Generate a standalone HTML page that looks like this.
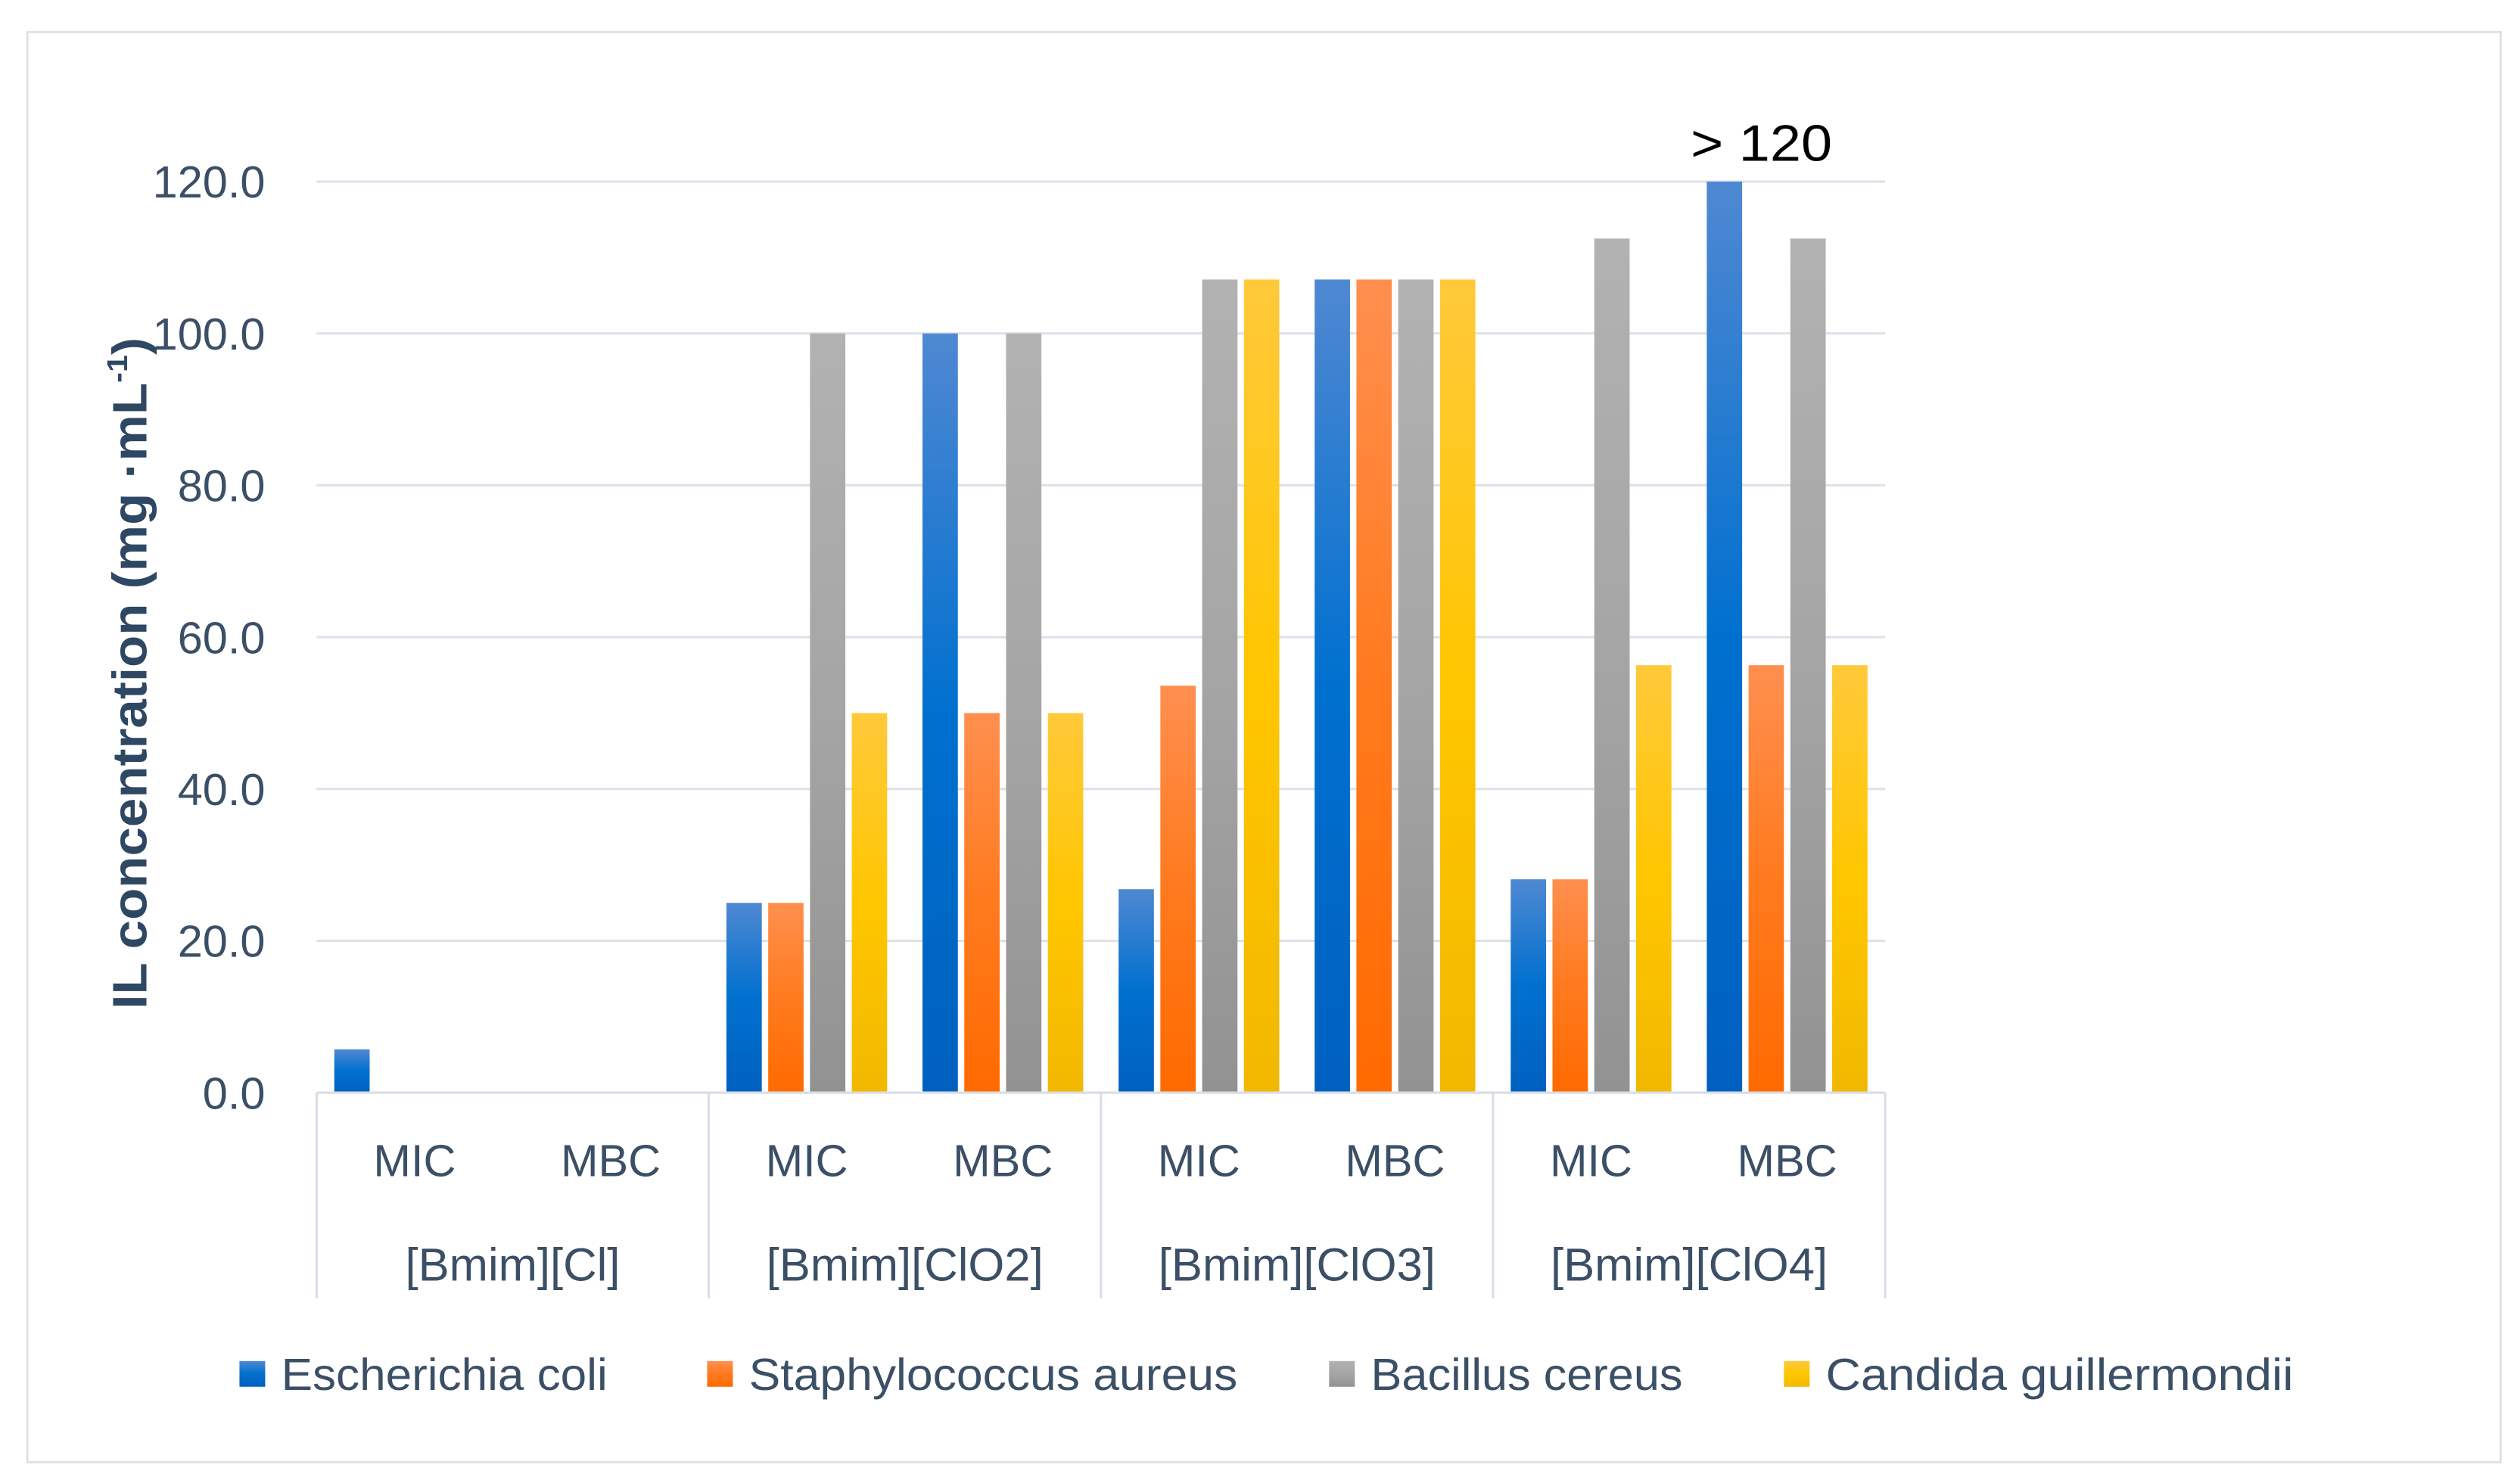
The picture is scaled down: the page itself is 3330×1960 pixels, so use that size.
<!DOCTYPE html>
<html><head><meta charset="utf-8"><style>
html,body{margin:0;padding:0;background:#fff}
svg{display:block}
text{font-family:"Liberation Sans","DejaVu Sans",sans-serif}
</style></head><body>
<svg id="chart" width="3330" height="1960" viewBox="0 0 1568 922.9" xmlns="http://www.w3.org/2000/svg">
<defs>
<linearGradient id="g0" x1="0" y1="0" x2="0" y2="1"><stop offset="0" stop-color="#4f88d2"/><stop offset="0.5" stop-color="#0070cf"/><stop offset="1" stop-color="#0060bf"/></linearGradient>
<linearGradient id="g1" x1="0" y1="0" x2="0" y2="1"><stop offset="0" stop-color="#ff8f4f"/><stop offset="0.5" stop-color="#ff7a1e"/><stop offset="1" stop-color="#ff6a00"/></linearGradient>
<linearGradient id="g2" x1="0" y1="0" x2="0" y2="1"><stop offset="0" stop-color="#b2b2b2"/><stop offset="0.5" stop-color="#a5a5a5"/><stop offset="1" stop-color="#929292"/></linearGradient>
<linearGradient id="g3" x1="0" y1="0" x2="0" y2="1"><stop offset="0" stop-color="#ffc93a"/><stop offset="0.5" stop-color="#ffc600"/><stop offset="1" stop-color="#f2b800"/></linearGradient>
</defs>
<rect x="17" y="20" width="1539" height="890" fill="#fff" stroke="#dfe3e8" stroke-width="1.5"/>
<g id="grid"></g>
<g id="bars"></g>
<g id="axis"></g>
<text transform="translate(91,419) rotate(-90)" text-anchor="middle" font-size="30" font-weight="bold" fill="#2e4763" textLength="418" lengthAdjust="spacingAndGlyphs">IL concentration  (mg ·mL<tspan font-size="18" dy="-12">-1</tspan><tspan dy="12">)</tspan></text>
<text x="1096" y="100" text-anchor="middle" font-size="32" fill="#000" textLength="88" lengthAdjust="spacingAndGlyphs">&gt; 120</text>
<g id="legend"></g>
</svg>
<script>
const groups = ["[Bmim][Cl]", "[Bmim][ClO2]", "[Bmim][ClO3]", "[Bmim][ClO4]"];
const subcats = ["MIC", "MBC"];
const seriesNames = ["Escherichia coli", "Staphylococcus aureus", "Bacillus cereus", "Candida guillermondii"];
const ecoli = [5.7, 0, 25, 100, 26.8, 107.1, 28.1, 120];
const saureus = [0, 0, 25, 50, 53.6, 107.1, 28.1, 56.3];
const bcereus = [0, 0, 100, 100, 107.1, 107.1, 112.5, 112.5];
const cguill = [0, 0, 50, 50, 107.1, 107.1, 56.3, 56.3];
const yTicks = [0, 20, 40, 60, 80, 100, 120];

const NS = "http://www.w3.org/2000/svg";
const X0 = 197, X1 = 1173, Y0 = 680, Y120 = 113;
const nCat = groups.length * subcats.length;
const catW = (X1 - X0) / nCat;
const y = v => Y0 - (v / 120) * (Y0 - Y120);
const catCenter = i => X0 + catW * (i + 0.5);
function mk(tag, attrs, parent) { const e = document.createElementNS(NS, tag); for (const k in attrs) e.setAttribute(k, attrs[k]); parent.appendChild(e); return e; }

const grid = document.getElementById("grid");
const axis = document.getElementById("axis");
yTicks.forEach(t => {
  if (t > 0) {
    const l = mk("line", {x1: X0, x2: X1, y1: y(t), y2: y(t), stroke: "#dde2ea", "stroke-width": 1.5}, grid);
    
    
  }
  const tx = mk("text", {x: 165, y: y(t) + 10, "text-anchor": "end", "font-size": 28, fill: "#3b4f66"}, axis);
  tx.textContent = t.toFixed(1);
  
  
});
const base = mk("line", {x1: X0, x2: X1, y1: Y0, y2: Y0, stroke: "#d9dee6", "stroke-width": 1.5}, axis);


for (let g = 0; g <= groups.length; g++) {
  const xx = X0 + g * catW * 2;
  const l = mk("line", {x1: xx, x2: xx, y1: Y0, y2: 808, stroke: "#d9dee6", "stroke-width": 1.5}, axis);
  
  
}
for (let i = 0; i < nCat; i++) {
  const t = mk("text", {x: catCenter(i), y: 732, "text-anchor": "middle", "font-size": 28, fill: "#3b4f66"}, axis);
  t.textContent = subcats[i % 2];
  
  
}
groups.forEach((g, gi) => {
  const t = mk("text", {x: X0 + catW * (2 * gi + 1), y: 797, "text-anchor": "middle", "font-size": 29, fill: "#3b4f66"}, axis);
  t.textContent = g;
  
  
});

const series = [ecoli, saureus, bcereus, cguill];
const bars = document.getElementById("bars");
const barW = 22, pitch = 26;
series.forEach((vals, si) => {
  vals.forEach((v, i) => {
    if (v <= 0) return;
    const x = catCenter(i) - 2 * pitch + 2 + si * pitch;
    const r = mk("rect", {x: x, y: y(v), width: barW, height: Y0 - y(v), fill: "url(#g" + si + ")"}, bars);
    
    
  });
});

const legend = document.getElementById("legend");
const legX = [149, 440, 827, 1110];
const legLen = [203, 304, 194, 291];
seriesNames.forEach((n, i) => {
  const r = mk("rect", {x: legX[i], y: 847, width: 16, height: 16, fill: "url(#g" + i + ")"}, legend);
  
  
  const t = mk("text", {x: legX[i] + 26, y: 865, "font-size": 28, fill: "#3b4f66", textLength: legLen[i], lengthAdjust: "spacingAndGlyphs"}, legend);
  t.textContent = n;
  
  
});
</script>
</body></html>
